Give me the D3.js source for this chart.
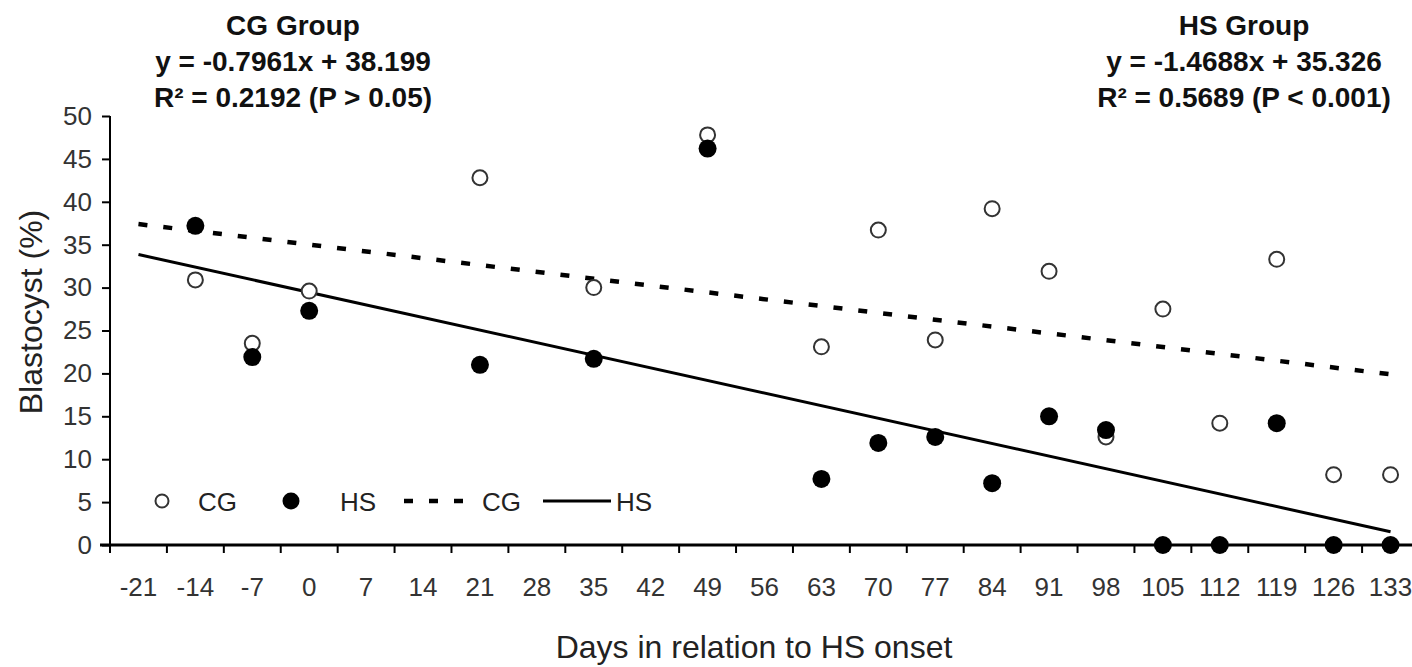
<!DOCTYPE html>
<html>
<head>
<meta charset="utf-8">
<script src="https://cdn.jsdelivr.net/npm/d3@7"></script>
<style>
	body { margin: 0; background: #fff; }
	svg { display: block; font-family: "Liberation Sans", Arial, sans-serif; }
</style>
</head>
<body>
<div id="chart"></div>
<script>
// category axis (days in relation to HS onset)
const days = [-21,-14,-7,0,7,14,21,28,35,42,49,56,63,70,77,84,91,98,105,112,119,126,133];
const yTicks = [0,5,10,15,20,25,30,35,40,45,50];

// observed blastocyst rates
const cgDays = [-14,-7,0,21,35,49,63,70,77,84,91,98,105,112,119,126,133];
const cgValues = [30.9,23.5,29.6,42.8,30.0,47.8,23.1,36.7,23.9,39.2,31.9,12.6,27.5,14.2,33.3,8.2,8.2];
const hsDays = [-14,-7,0,21,35,49,63,70,77,84,91,98,105,112,119,126,133];
const hsValues = [37.2,21.9,27.3,21.0,21.7,46.2,7.7,11.9,12.6,7.2,15.0,13.4,0,0,14.2,0,0];

// linear trends (x = category index 1..23)
const fitGroups = ['CG','HS'];
const fitSlopes = [-0.7961, -1.4688];
const fitIntercepts = [38.199, 35.326];

const cgHeader = ['CG Group', 'y = -0.7961x + 38.199', 'R\u00B2 = 0.2192 (P > 0.05)'];
const hsHeader = ['HS Group', 'y = -1.4688x + 35.326', 'R\u00B2 = 0.5689  (P < 0.001)'];
const legendLabels = ['CG','HS','CG','HS'];

const W = 1412;
const H = 667;

const svg = d3.select('#chart').append('svg')
	.attr('width', W)
	.attr('height', H);

const scaleX = d3.scaleBand().domain(days).range([110, 1419]).padding(0);
const bw = scaleX.bandwidth();
const cx = d => scaleX(d) + bw / 2;
const scaleY = d3.scaleLinear().domain([0, 50]).range([545, 116]);

//y axis
const axisY = d3.axisLeft(scaleY)
	.tickValues(yTicks)
	.tickSize(8)
	.tickPadding(10);
const gy = svg.append('g')
	.attr('transform', 'translate(110,0)')
	.call(axisY);
gy.select('.domain').attr('d', `M0,${scaleY(50)}V${scaleY(0)}`).attr('stroke', '#000').attr('stroke-width', 2);
gy.selectAll('.tick line').attr('stroke', '#000').attr('stroke-width', 2);
gy.selectAll('.tick text')
	.attr('fill', '#333')
	.style('font-size', '26px');

//x axis: labels centred in each category, ticks on the boundaries
const axisX = d3.axisBottom(scaleX)
	.tickSize(0)
	.tickPadding(33);
const gx = svg.append('g')
	.attr('transform', `translate(0,${scaleY(0)})`)
	.call(axisX);
gx.select('.domain').remove();
gx.selectAll('.tick text')
	.attr('fill', '#333')
	.style('font-size', '26px');

gx.append('line')
	.attr('x1', 100).attr('x2', W)
	.attr('stroke', '#000').attr('stroke-width', 3);
gx.selectAll('.bound')
	.data(days)
	.join('line')
	.attr('class', 'bound')
	.attr('x1', d => scaleX(d)).attr('x2', d => scaleX(d))
	.attr('y1', 0).attr('y2', 8)
	.attr('stroke', '#000').attr('stroke-width', 2);

//trend lines
const lineGenerator = d3.line()
	.x(d => cx(days[d.i - 1]))
	.y(d => scaleY(d.v));
fitGroups.forEach((g, k) => {
	const ends = [1, days.length].map(i => ({i: i, v: fitSlopes[k] * i + fitIntercepts[k]}));
	svg.append('path')
		.datum(ends)
		.attr('d', lineGenerator)
		.attr('fill', 'none')
		.attr('stroke', '#000')
		.attr('stroke-width', g === 'CG' ? 4.5 : 3)
		.attr('stroke-dasharray', g === 'CG' ? '9,16' : null);
});

//points
svg.append('g').selectAll('circle')
	.data(cgDays.map((d, i) => ({d: d, v: cgValues[i]})))
	.join('circle')
	.attr('cx', p => cx(p.d))
	.attr('cy', p => scaleY(p.v))
	.attr('r', 7.5)
	.attr('fill', '#fff')
	.attr('stroke', '#333')
	.attr('stroke-width', 2);

svg.append('g').selectAll('circle')
	.data(hsDays.map((d, i) => ({d: d, v: hsValues[i]})))
	.join('circle')
	.attr('cx', p => cx(p.d))
	.attr('cy', p => scaleY(p.v))
	.attr('r', 9)
	.attr('fill', '#000');

//legend
const legendY = 501;
const legend = svg.append('g').style('font-size', '26px').attr('fill', '#222');
legend.append('circle').attr('cx', 162).attr('cy', legendY).attr('r', 6.5)
	.attr('fill', '#fff').attr('stroke', '#333').attr('stroke-width', 2);
legend.append('circle').attr('cx', 291).attr('cy', legendY).attr('r', 8.5).attr('fill', '#000');
legend.append('line').attr('x1', 404).attr('x2', 464).attr('y1', legendY).attr('y2', legendY)
	.attr('stroke', '#000').attr('stroke-width', 4.5).attr('stroke-dasharray', '9,16');
legend.append('line').attr('x1', 543).attr('x2', 611).attr('y1', legendY).attr('y2', legendY)
	.attr('stroke', '#000').attr('stroke-width', 3);
legend.selectAll('text')
	.data(legendLabels)
	.join('text')
	.attr('x', (d, i) => [198, 340, 482, 616][i])
	.attr('y', legendY + 10)
	.text(d => d);

//headers
function header(lines, x){
	svg.append('g')
		.selectAll('text')
		.data(lines)
		.join('text')
		.attr('x', x)
		.attr('y', (d, i) => 35 + i * 36)
		.attr('text-anchor', 'middle')
		.style('font-size', '28px')
		.style('font-weight', 'bold')
		.attr('fill', '#111')
		.text(d => d);
}
header(cgHeader, 293);
header(hsHeader, 1244);

//axis titles
svg.append('text')
	.attr('x', 754).attr('y', 658)
	.attr('text-anchor', 'middle')
	.style('font-size', '32px')
	.attr('fill', '#222')
	.text('Days in relation to HS onset');

svg.append('text')
	.attr('transform', 'translate(42,312) rotate(-90)')
	.attr('text-anchor', 'middle')
	.style('font-size', '32px')
	.attr('fill', '#222')
	.text('Blastocyst (%)');
</script>
</body>
</html>
